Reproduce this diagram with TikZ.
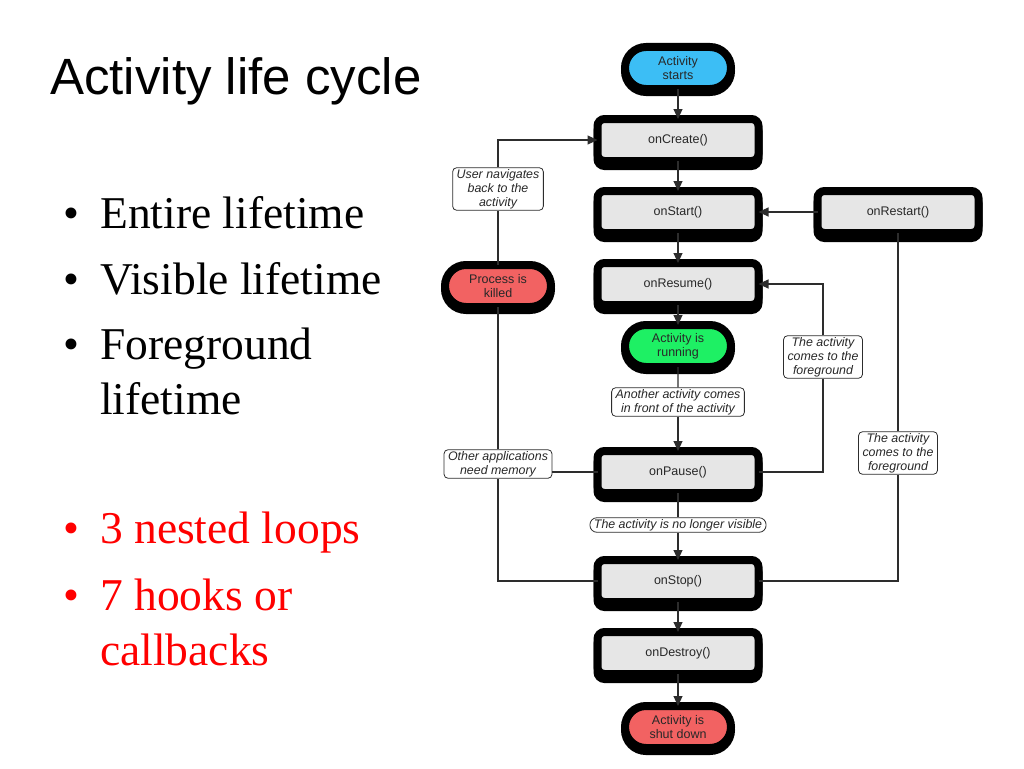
\documentclass[tikz,border=0pt]{standalone}
\usepackage{fontspec}
\setmainfont{Liberation Serif}
\setsansfont{Liberation Sans}
\usetikzlibrary{arrows.meta,shapes.misc,shadows}

\definecolor{boxgray}{RGB}{230,230,230}
\definecolor{startblue}{RGB}{60,190,245}
\definecolor{rungreen}{RGB}{30,240,100}
\definecolor{killred}{RGB}{242,98,98}
\definecolor{txtgray}{RGB}{40,40,40}
\definecolor{linegray}{RGB}{45,45,45}

\newcommand{\boxfont}{\sffamily\fontsize{12.5}{14}\selectfont}
\newcommand{\notefont}{\sffamily\itshape\fontsize{12.4}{14}\selectfont}
\newcommand{\listfont}{\fontsize{45.5}{50}\selectfont}

\tikzset{
	callback/.style={draw=black, line width=8pt, fill=boxgray, rounded corners=7pt,
		minimum width=161pt, minimum height=42pt, inner sep=0pt, outer sep=0pt,
		font=\boxfont, text=txtgray,
		drop shadow={shadow xshift=0pt, shadow yshift=-5pt, fill=black, draw=black, line width=8pt, opacity=1}},
	pill/.style={rounded rectangle, draw=black, line width=8pt,
		minimum width=106pt, minimum height=42pt, inner sep=0pt, outer sep=0pt,
		align=center, font=\boxfont, text=txtgray,
		drop shadow={shadow xshift=0pt, shadow yshift=-3pt, fill=black, draw=black, line width=8pt, opacity=1}},
	note/.style={draw=linegray, line width=0.8pt, rounded corners=4pt, fill=white,
		align=center, inner xsep=4pt, inner ysep=1.5pt, font=\notefont, text=txtgray},
	link/.style={draw=linegray, line width=1.1pt},
	flow/.style={link, -{Triangle[length=10pt,width=9pt]}},
	item/.style={anchor=base west, inner sep=0pt, font=\listfont}
}

\begin{document}
\begin{tikzpicture}[x=1pt,y=-1pt]
	\useasboundingbox (0,0) rectangle (1024,768);

	% title and bullet list
	\node[anchor=base west, inner sep=0pt, font=\sffamily\fontsize{51}{60}\selectfont] (title) at (50,94) {Activity life cycle};
	\node[item] (dotA) at (63,228) {•};
	\node[item] (entire) at (100,228) {Entire lifetime};
	\node[item] (dotB) at (63,294) {•};
	\node[item] (visible) at (100,294) {Visible lifetime};
	\node[item] (dotC) at (63,359) {•};
	\node[item] (foreA) at (100,359) {Foreground};
	\node[item] (foreB) at (100,414) {lifetime};
	\node[item, text=red] (dotD) at (63,543) {•};
	\node[item, text=red] (loops) at (100,543) {3 nested loops};
	\node[item, text=red] (dotE) at (63,610) {•};
	\node[item, text=red] (hooksA) at (100,610) {7 hooks or};
	\node[item, text=red] (hooksB) at (100,665) {callbacks};

	% states and callbacks
	\node[pill, fill=startblue] (actStart) at (678,68) {Activity\\starts};
	\node[callback] (onCreate) at (678,140) {onCreate()};
	\node[callback] (onStart) at (678,212) {onStart()};
	\node[callback] (onResume) at (678,284) {onResume()};
	\node[pill, fill=rungreen] (running) at (678,346) {Activity is\\running};
	\node[callback] (onPause) at (678,472) {onPause()};
	\node[callback] (onStop) at (678,581) {onStop()};
	\node[callback] (onDestroy) at (678,653) {onDestroy()};
	\node[pill, fill=killred] (shutDown) at (678,727) {Activity is\\shut down};
	\node[callback] (onRestart) at (898,212) {onRestart()};
	\node[pill, fill=killred] (killed) at (498,286) {Process is\\killed};

	% transition notes
	\node[note] (navBack) at (498,189) {User navigates\\back to the\\activity};
	\node[note] (another) at (678,402) {Another activity comes\\in front of the activity};
	\node[note, rounded corners=7pt] (invisible) at (678,525) {The activity is no longer visible};
	\node[note] (memory) at (498,464) {Other applications\\need memory};
	\node[note] (fgMid) at (823,357) {The activity\\comes to the\\foreground};
	\node[note] (fgRight) at (898,453) {The activity\\comes to the\\foreground};

	% main path
	\draw[flow] (actStart) -- (onCreate);
	\draw[flow] (onCreate) -- (onStart);
	\draw[flow] (onStart) -- (onResume);
	\draw[flow] (onResume) -- (running);
	\draw[link] (running) -- (another);
	\draw[flow] (another) -- (onPause);
	\draw[link] (onPause) -- (invisible);
	\draw[flow] (invisible) -- (onStop);
	\draw[flow] (onStop) -- (onDestroy);
	\draw[flow] (onDestroy) -- (shutDown);

	% left loop
	\draw[link] (onPause.west) -- (onPause.west -| memory.east);
	\draw[link] (onStop.west) -| (memory.south);
	\draw[link] (memory.north) -- (killed.south);
	\draw[link] (killed.north) -- (navBack.south);
	\draw[flow] (navBack.north) |- (onCreate.west);

	% right loops
	\draw[link] (onPause.east) -| (fgMid.south);
	\draw[flow] (fgMid.north) |- (onResume.east);
	\draw[link] (onStop.east) -| (fgRight.south);
	\draw[link] (fgRight.north) -- (onRestart.south);
	\draw[flow] (onRestart.west) -- (onStart.east);
\end{tikzpicture}
\end{document}
